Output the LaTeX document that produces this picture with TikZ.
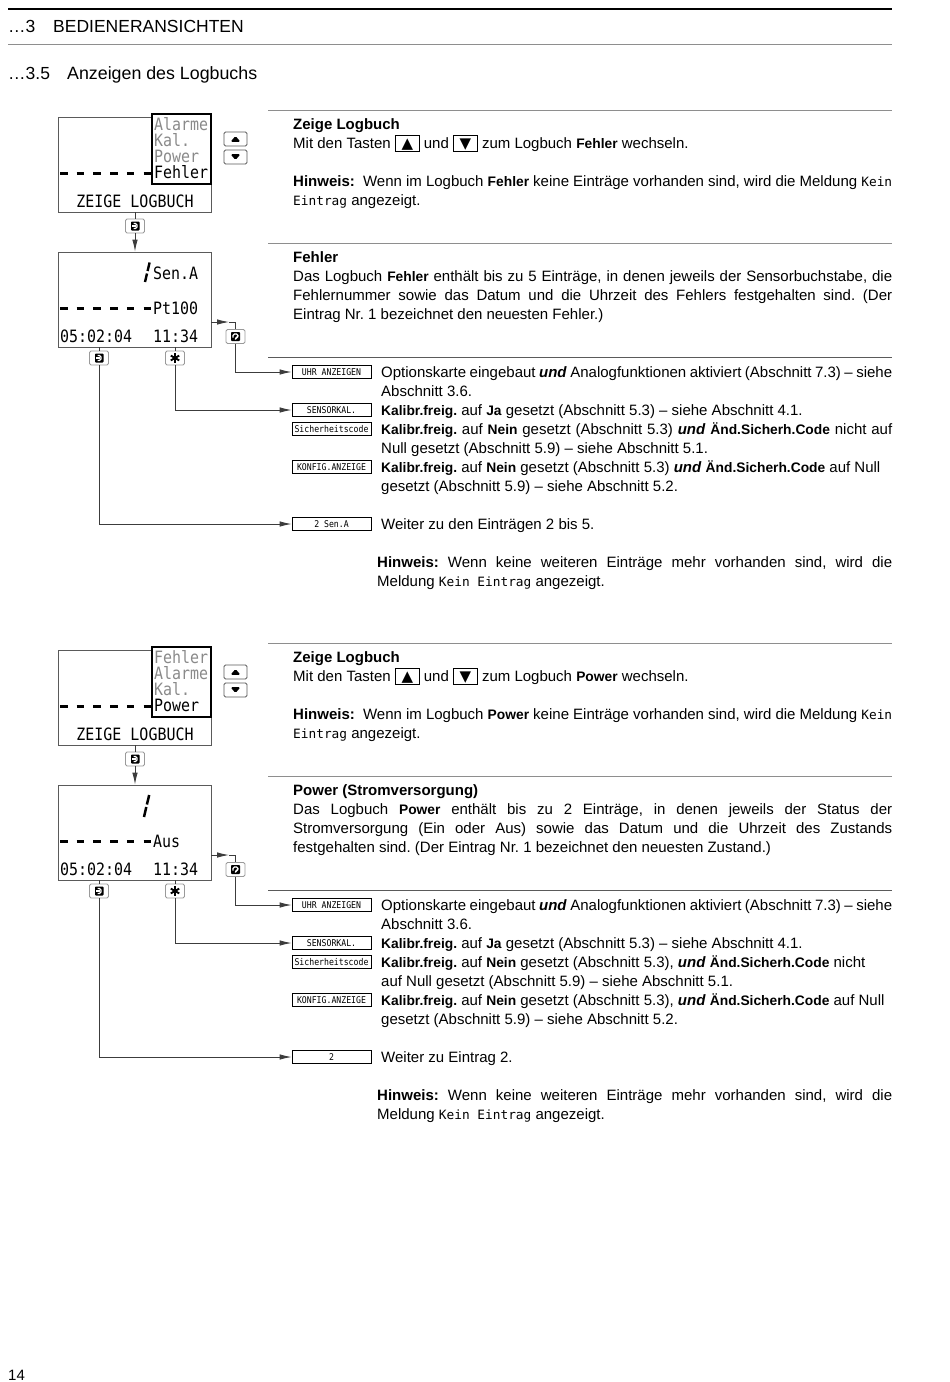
\documentclass[tikz,border=0pt]{standalone}
\usepackage{fontspec}
\setmainfont{Liberation Sans}
\newfontfamily\lcd[FakeStretch=0.88]{DejaVu Sans Mono}
\newfontfamily\kmono{DejaVu Sans Mono}
\newfontfamily\symf{DejaVu Sans}
\usetikzlibrary{arrows.meta}

\definecolor{framec}{HTML}{5A5A5A}
\definecolor{rulec}{HTML}{8E8E8E}
\definecolor{menuc}{HTML}{8A8A8A}
\definecolor{linec}{HTML}{3C3C3C}
\definecolor{iconc}{HTML}{9A9A9A}

\newcommand\bodyf{\fontsize{15}{17}\selectfont\frenchspacing}
\newcommand\headf{\fontsize{15}{17}\selectfont\bfseries}
\newcommand\kw[1]{{\fontsize{13.8}{17}\selectfont\bfseries #1}}
\newcommand\undw{\textbf{\textit{und}}}
\newcommand\km[1]{{\kmono\fontsize{12.8}{17}\selectfont #1}}
\newcommand\keyb[1]{{\setlength{\fboxsep}{0pt}\setlength{\fboxrule}{0.9pt}\fbox{\makebox[23pt]{\rule[-3pt]{0pt}{15.5pt}\symf\fontsize{15}{15}\selectfont #1}}}}
\newcommand\jl[2]{\makebox[#1pt][s]{#2}}

\tikzset{
  txt/.style={anchor=base west, inner sep=0pt, font=\bodyf},
  hdg/.style={anchor=base west, inner sep=0pt, font=\headf},
  disp/.style={draw=framec, line width=0.9pt, minimum width=153pt, minimum height=95pt, inner sep=0pt},
  menubox/.style={draw=black, line width=1.8pt, fill=white, minimum width=59pt, minimum height=70pt, inner sep=0pt},
  lcdt/.style={anchor=base west, inner sep=0pt, font=\lcd\fontsize{17}{17}\selectfont},
  lcdc/.style={anchor=base, inner sep=0pt, font=\lcd\fontsize{17}{17}\selectfont},
  segd/.style={line width=3pt},
  optbox/.style={draw=black, line width=0.7pt, minimum width=79pt, minimum height=13pt, inner sep=0pt, font=\lcd\fontsize{9.3}{9.3}\selectfont},
  iconbox/.style={draw=iconc, rounded corners=1.5pt, line width=0.8pt, minimum width=19pt, minimum height=14pt, inner sep=0pt},
  conn/.style={draw=linec, line width=0.9pt},
  arr/.style={conn, -{Latex[length=12pt,width=5.5pt]}},
  rulel/.style={draw=rulec, line width=1pt},
  keyup/.style={iconbox, minimum width=23pt, draw=framec, path picture={
     \coordinate (pc) at (path picture bounding box.center);
     \fill[black] ([shift={(-5,2.8)}]pc) -- ([shift={(5,2.8)}]pc) -- ([shift={(0,-3)}]pc) -- cycle;}},
  keydown/.style={iconbox, minimum width=23pt, draw=framec, path picture={
     \coordinate (pc) at (path picture bounding box.center);
     \fill[black] ([shift={(-5,-2.8)}]pc) -- ([shift={(5,-2.8)}]pc) -- ([shift={(0,3)}]pc) -- cycle;}},
  enticon/.style={iconbox, path picture={
     \coordinate (pc) at (path picture bounding box.center);
     \fill[black, rounded corners=0.8pt] ([shift={(-4,-4.5)}]pc) rectangle ([shift={(4.5,4.5)}]pc);
     \draw[white, line width=1.1pt] ([shift={(-1.5,-2.5)}]pc) -- ([shift={(2,-2.5)}]pc) -- ([shift={(2,2.5)}]pc) -- ([shift={(-1.5,2.5)}]pc);
     \draw[white, line width=1.1pt] ([shift={(-3,0)}]pc) -- ([shift={(0.5,0)}]pc);}},
  reticon/.style={iconbox, path picture={
     \coordinate (pc) at (path picture bounding box.center);
     \fill[black, rounded corners=0.8pt] ([shift={(-4.5,-4.5)}]pc) rectangle ([shift={(4.5,4.5)}]pc);
     \draw[white, line width=1.1pt] ([shift={(-2.5,1)}]pc) -- ([shift={(-2.5,-2.5)}]pc) -- ([shift={(2.5,-2.5)}]pc) -- ([shift={(2.5,1)}]pc) -- ([shift={(0,1)}]pc) -- ([shift={(0,3)}]pc);}},
  staricon/.style={iconbox, path picture={
     \coordinate (pc) at (path picture bounding box.center);
     \draw[black, line width=1.9pt] ([shift={(0,-4.8)}]pc) -- ([shift={(0,4.8)}]pc);
     \draw[black, line width=1.9pt] ([shift={(-4.2,-2.4)}]pc) -- ([shift={(4.2,2.4)}]pc);
     \draw[black, line width=1.9pt] ([shift={(-4.2,2.4)}]pc) -- ([shift={(4.2,-2.4)}]pc);}},
}

% #1 prefix, #2-#5 menu lines, #6 top text display 2, #7 mid text, #8 last box label
\newcommand\Panel[8]{%
  \node[disp] (#1d1) at (134.5,164.5) {};
  \node[menubox] (#1m) at (181.5,149) {};
  \node[lcdt, text=menuc] (#1ma) at (154,130) {#2};
  \node[lcdt, text=menuc] (#1mb) at (154,146) {#3};
  \node[lcdt, text=menuc] (#1mc) at (154,162) {#4};
  \node[lcdt] (#1md) at (154,178) {#5};
  \foreach \i in {0,...,5} \draw[segd] ({60+\i*16.7},173) -- ++(7.5,0);
  \node[lcdc] (#1zl) at (135,207) {ZEIGE LOGBUCH};
  \node[keyup] (#1up) at (235.5,139) {};
  \node[keydown] (#1dn) at (235.5,157) {};
  \node[disp] (#1d2) at (134.5,299.5) {};
  \node[lcdt] (#1sa) at (153,279) {#6};
  \foreach \i in {0,...,5} \draw[segd] ({60+\i*16.7},308) -- ++(7.5,0);
  \node[lcdt] (#1pt) at (153,314) {#7};
  \node[lcdt] (#1dt) at (60,342) {05:02:04};
  \node[lcdt] (#1tm) at (153,342) {11:34};
  \node[enticon] (#1e1) at (135,226) {};
  \node[reticon] (#1ret) at (235.5,336.5) {};
  \node[enticon] (#1e2) at (99,358) {};
  \node[staricon] (#1st) at (175,358) {};
  \node[optbox] (#1b1) at (331.5,372) {UHR ANZEIGEN};
  \node[optbox] (#1b2) at (331.5,410) {SENSORKAL.};
  \node[optbox] (#1b3) at (331.5,429) {Sicherheitscode};
  \node[optbox] (#1b4) at (331.5,467) {KONFIG.ANZEIGE};
  \node[optbox] (#1b5) at (331.5,524) {#8};
  \draw[conn] (#1d1.south -| #1e1) -- (#1e1.north);
  \draw[arr] (#1e1.south) -- (#1d2.north -| #1e1);
  \coordinate (#1k) at (229,322);
  \draw[arr] (#1d2.east |- #1k) -- (#1k);
  \draw[conn] (#1k) -| (#1ret.north);
  \draw[arr] (#1ret.south) |- (#1b1.west);
  \draw[conn] (#1d2.south -| #1e2) -- (#1e2.north);
  \draw[arr] (#1e2.south) |- (#1b5.west);
  \draw[conn] (#1d2.south -| #1st) -- (#1st.north);
  \draw[arr] (#1st.south) |- (#1b2.west);
  \draw[rulel] (268,110) -- (892,110);
  \draw[rulel] (268,243) -- (892,243);
  \draw[draw=framec, line width=1pt] (268,357) -- (892,357);
}

\begin{document}
\frenchspacing
\begin{tikzpicture}[x=1pt, y=-1pt]
\fill[white] (0,0) rectangle (950,1382);
\useasboundingbox (0,0) rectangle (950,1382);

% header
\draw[line width=1.3pt] (8,9) -- (892,9);
\node[anchor=base west, inner sep=0pt, font=\fontsize{17.5}{20}\selectfont] (h1) at (8,32) {…3};
\node[anchor=base west, inner sep=0pt, font=\fontsize{17.5}{20}\selectfont] (h2) at (53,32) {BEDIENERANSICHTEN};
\draw[draw=rulec, line width=1pt] (8,44) -- (892,44);
\node[anchor=base west, inner sep=0pt, font=\fontsize{17.5}{20}\selectfont] (h3) at (8,79) {…3.5};
\node[anchor=base west, inner sep=0pt, font=\fontsize{17.8}{20}\selectfont] (h4) at (67,79) {Anzeigen des Logbuchs};

% section 1
\Panel{a}{Alarme}{Kal.}{Power}{Fehler}{Sen.A}{Pt100}{2 Sen.A}
\draw[line width=2.4pt] (145,282) -- (147,273.5);
\draw[line width=2.4pt] (147.6,271) -- (149.6,262.5);
\node[hdg] (a1) at (293,129) {Zeige Logbuch};
\node[txt] (a2) at (293,148) {Mit den Tasten \keyb{▲} und \keyb{▼} zum Logbuch \kw{Fehler} wechseln.};
\node[txt] (a3) at (293,186) {\jl{599}{\textbf{Hinweis:}\ \ Wenn im Logbuch \kw{Fehler} keine Einträge vorhanden sind, wird die Meldung \km{Kein}}};
\node[txt] (a4) at (293,205) {\km{Eintrag} angezeigt.};
\node[hdg] (a5) at (293,262) {Fehler};
\node[txt] (a6) at (293,281) {\jl{599}{Das Logbuch \kw{Fehler} enthält bis zu 5 Einträge, in denen jeweils der Sensorbuchstabe, die}};
\node[txt] (a7) at (293,300) {\jl{599}{Fehlernummer sowie das Datum und die Uhrzeit des Fehlers festgehalten sind. (Der}};
\node[txt] (a8) at (293,319) {Eintrag Nr. 1 bezeichnet den neuesten Fehler.)};
\node[txt] (a9) at (381,377) {\jl{511}{Optionskarte eingebaut \undw{} Analogfunktionen aktiviert (Abschnitt 7.3) – siehe}};
\node[txt] (a10) at (381,396) {Abschnitt 3.6.};
\node[txt] (a11) at (381,415) {\kw{Kalibr.freig.} auf \kw{Ja} gesetzt (Abschnitt 5.3) – siehe Abschnitt 4.1.};
\node[txt] (a12) at (381,434) {\jl{511}{\kw{Kalibr.freig.} auf \kw{Nein} gesetzt (Abschnitt 5.3) \undw{} \kw{Änd.Sicherh.Code} nicht auf}};
\node[txt] (a13) at (381,453) {Null gesetzt (Abschnitt 5.9) – siehe Abschnitt 5.1.};
\node[txt] (a14) at (381,472) {\kw{Kalibr.freig.} auf \kw{Nein} gesetzt (Abschnitt 5.3) \undw{} \kw{Änd.Sicherh.Code} auf Null};
\node[txt] (a15) at (381,491) {gesetzt (Abschnitt 5.9) – siehe Abschnitt 5.2.};
\node[txt] (a16) at (381,529) {Weiter zu den Einträgen 2 bis 5.};
\node[txt] (a17) at (377,567) {\jl{515}{\textbf{Hinweis:} Wenn keine weiteren Einträge mehr vorhanden sind, wird die}};
\node[txt] (a18) at (377,586) {Meldung \km{Kein Eintrag} angezeigt.};

% section 2
\begin{scope}[shift={(0,533)}]
\Panel{b}{Fehler}{Alarme}{Kal.}{Power}{}{Aus}{2}
\end{scope}
\draw[line width=2.5pt] (144,817) -- (146.3,807);
\draw[line width=2.5pt] (146.9,804.5) -- (149.2,795);
\node[hdg] (b1) at (293,662) {Zeige Logbuch};
\node[txt] (b2) at (293,681) {Mit den Tasten \keyb{▲} und \keyb{▼} zum Logbuch \kw{Power} wechseln.};
\node[txt] (b3) at (293,719) {\jl{599}{\textbf{Hinweis:}\ \ Wenn im Logbuch \kw{Power} keine Einträge vorhanden sind, wird die Meldung \km{Kein}}};
\node[txt] (b4) at (293,738) {\km{Eintrag} angezeigt.};
\node[hdg] (b5) at (293,795) {Power (Stromversorgung)};
\node[txt] (b6) at (293,814) {\jl{599}{Das Logbuch \kw{Power} enthält bis zu 2 Einträge, in denen jeweils der Status der}};
\node[txt] (b7) at (293,833) {\jl{599}{Stromversorgung (Ein oder Aus) sowie das Datum und die Uhrzeit des Zustands}};
\node[txt] (b8) at (293,852) {festgehalten sind. (Der Eintrag Nr. 1 bezeichnet den neuesten Zustand.)};
\node[txt] (b9) at (381,910) {\jl{511}{Optionskarte eingebaut \undw{} Analogfunktionen aktiviert (Abschnitt 7.3) – siehe}};
\node[txt] (b10) at (381,929) {Abschnitt 3.6.};
\node[txt] (b11) at (381,948) {\kw{Kalibr.freig.} auf \kw{Ja} gesetzt (Abschnitt 5.3) – siehe Abschnitt 4.1.};
\node[txt] (b12) at (381,967) {\kw{Kalibr.freig.} auf \kw{Nein} gesetzt (Abschnitt 5.3), \undw{} \kw{Änd.Sicherh.Code} nicht};
\node[txt] (b13) at (381,986) {auf Null gesetzt (Abschnitt 5.9) – siehe Abschnitt 5.1.};
\node[txt] (b14) at (381,1005) {\kw{Kalibr.freig.} auf \kw{Nein} gesetzt (Abschnitt 5.3), \undw{} \kw{Änd.Sicherh.Code} auf Null};
\node[txt] (b15) at (381,1024) {gesetzt (Abschnitt 5.9) – siehe Abschnitt 5.2.};
\node[txt] (b16) at (381,1062) {Weiter zu Eintrag 2.};
\node[txt] (b17) at (377,1100) {\jl{515}{\textbf{Hinweis:} Wenn keine weiteren Einträge mehr vorhanden sind, wird die}};
\node[txt] (b18) at (377,1119) {Meldung \km{Kein Eintrag} angezeigt.};

% page number
\node[anchor=base west, inner sep=0pt, font=\fontsize{15}{17}\selectfont] (pg) at (8,1380) {14};
\end{tikzpicture}
\end{document}
